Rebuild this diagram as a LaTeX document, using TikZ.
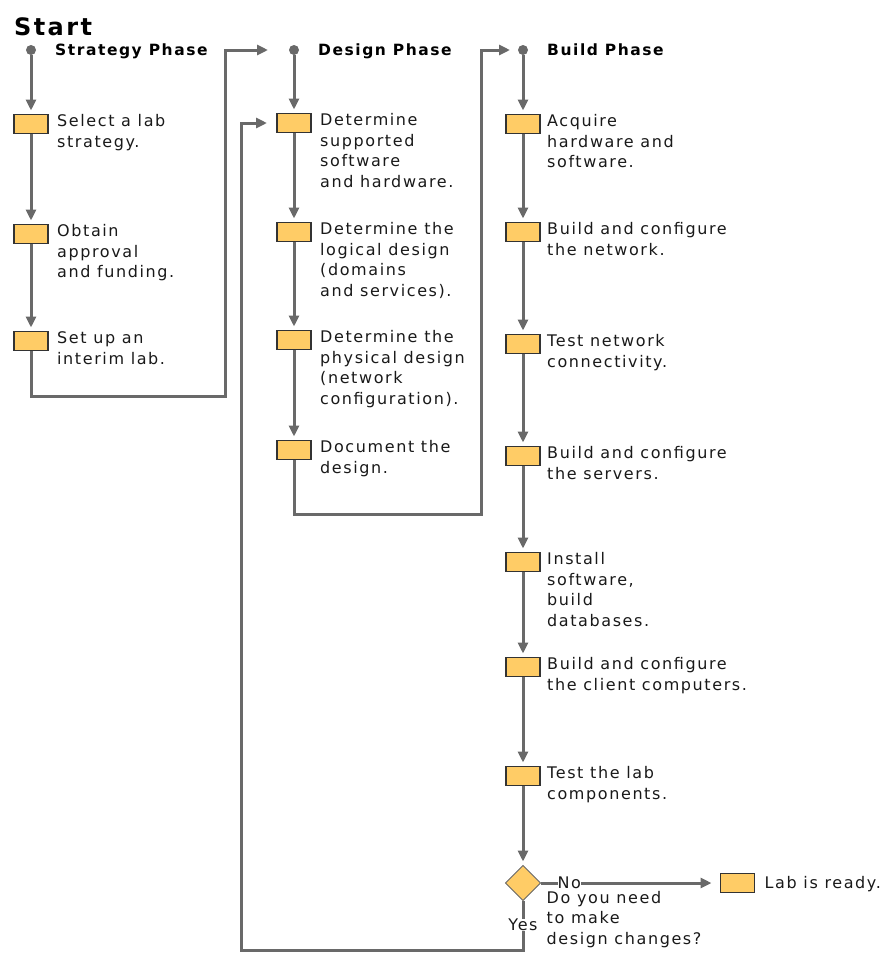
\documentclass[tikz,border=0pt]{standalone}
\usepackage{fontspec}
\newfontfamily\labfont[LetterSpace=10]{DejaVu Sans}
\usetikzlibrary{arrows.meta,positioning,shapes.geometric}
\definecolor{taskfill}{RGB}{255,204,102}
\definecolor{wiregray}{RGB}{105,105,105}

\begin{document}
\begin{tikzpicture}[
  x=1pt, y=-1pt,
  font=\labfont\fontsize{16}{20.5}\selectfont,
  task/.style={draw=black!80, line width=1.3pt, fill=taskfill,
               minimum width=34pt, minimum height=19pt, inner sep=0pt, outer sep=0pt},
  decision/.style={diamond, draw=black!60, line width=0.8pt, fill=taskfill, aspect=1,
               minimum width=35pt, minimum height=35pt, inner sep=0pt, outer sep=0pt},
  dot/.style={circle, fill=wiregray, minimum size=10pt, inner sep=0pt, outer sep=0pt},
  note/.style={align=left, inner sep=0pt, text=black!90, execute at begin node=\strut},
  phase/.style={font=\labfont\bfseries\fontsize{15.5}{18}\selectfont, inner sep=0pt,
                text height=11.3pt, text depth=0pt},
  arrow/.style={wiregray, line width=3pt, -{Triangle[length=11pt,width=10pt]}, shorten >=4pt},
  tag/.style={fill=white, inner sep=0pt, text=black!90}]
\useasboundingbox (0,0) rectangle (884,954);
\node[font=\labfont\bfseries\fontsize{24}{28}\selectfont, anchor=base west, inner sep=0pt]
  (start) at (14,35) {Start};
% strategy phase
\node[dot] (s0) at (31,50) {};
\node[phase, right=19pt of s0] (s0t) {Strategy Phase};
\node[task, below=59.5pt of s0] (s1) {};
\node[task, below=91pt of s1] (s2) {};
\node[task, below=88pt of s2] (s3) {};
\node[note, below right=0pt and 9pt of s1.north east] (s1t) {Select a lab\\strategy.};
\node[note, below right=0pt and 9pt of s2.north east] (s2t) {Obtain\\approval\\and funding.};
\node[note, below right=0pt and 9pt of s3.north east] (s3t) {Set up an\\interim lab.};
% design phase
\node[dot] (d0) at (294,50) {};
\node[phase, right=19pt of d0] (d0t) {Design Phase};
\node[task, below=58.5pt of d0] (d1) {};
\node[task, below=90pt of d1] (d2) {};
\node[task, below=89pt of d2] (d3) {};
\node[task, below=91pt of d3] (d4) {};
\node[note, below right=0pt and 9pt of d1.north east] (d1t) {Determine\\supported\\software\\and hardware.};
\node[note, below right=0pt and 9pt of d2.north east] (d2t) {Determine the\\logical design\\(domains\\and services).};
\node[note, below right=0pt and 9pt of d3.north east] (d3t) {Determine the\\physical design\\(network\\configuration).};
\node[note, below right=0pt and 9pt of d4.north east] (d4t) {Document the\\design.};
% build phase
\node[dot] (b0) at (523,50) {};
\node[phase, right=19pt of b0] (b0t) {Build Phase};
\node[task, below=59.5pt of b0] (b1) {};
\node[task, below=89pt of b1] (b2) {};
\node[task, below=93pt of b2] (b3) {};
\node[task, below=93pt of b3] (b4) {};
\node[task, below=87pt of b4] (b5) {};
\node[task, below=86pt of b5] (b6) {};
\node[task, below=90pt of b6] (b7) {};
\node[decision, below=80pt of b7] (q) {};
\node[task, right=180pt of q] (lab) {};
\node[note, below right=0pt and 7pt of b1.north east] (b1t) {Acquire\\hardware and\\software.};
\node[note, below right=0pt and 7pt of b2.north east] (b2t) {Build and configure\\the network.};
\node[note, below right=0pt and 7pt of b3.north east] (b3t) {Test network\\connectivity.};
\node[note, below right=0pt and 7pt of b4.north east] (b4t) {Build and configure\\the servers.};
\node[note, below right=0pt and 7pt of b5.north east] (b5t) {Install\\software,\\build\\databases.};
\node[note, below right=0pt and 7pt of b6.north east] (b6t) {Build and configure\\the client computers.};
\node[note, below right=0pt and 7pt of b7.north east] (b7t) {Test the lab\\components.};
\node[note, below right=8pt and 6pt of q.east] (qt) {Do you need\\to make\\design changes?};
\node[note, below right=0pt and 10pt of lab.north east] (labt) {Lab is ready.};
% bends of the long connectors
\coordinate (sbend) at (225.5,396);
\coordinate (dbend) at (481,514);
\coordinate (yloop) at (241,950);
% connectors
\draw[arrow] (s0) -- (s1);
\draw[arrow] (s1) -- (s2);
\draw[arrow] (s2) -- (s3);
\draw[arrow, shorten >=21pt] (s3.south) |- (sbend) |- (d0);
\draw[arrow] (d0) -- (d1);
\draw[arrow] (d1) -- (d2);
\draw[arrow] (d2) -- (d3);
\draw[arrow] (d3) -- (d4);
\draw[arrow, shorten >=8pt] (d4.south) |- (dbend) |- (b0);
\foreach \a/\b in {b0/b1, b1/b2, b2/b3, b3/b4, b4/b5, b5/b6, b6/b7, b7/q}
  \draw[arrow] (\a) -- (\b);
\draw[arrow, shorten >=9pt] (q) -- node[tag, pos=0.16] {No} (lab);
\draw[arrow, shorten >=10pt] (q.south) |- node[tag, pos=0.25] {Yes} (yloop) |- (d1);
\end{tikzpicture}
\end{document}
